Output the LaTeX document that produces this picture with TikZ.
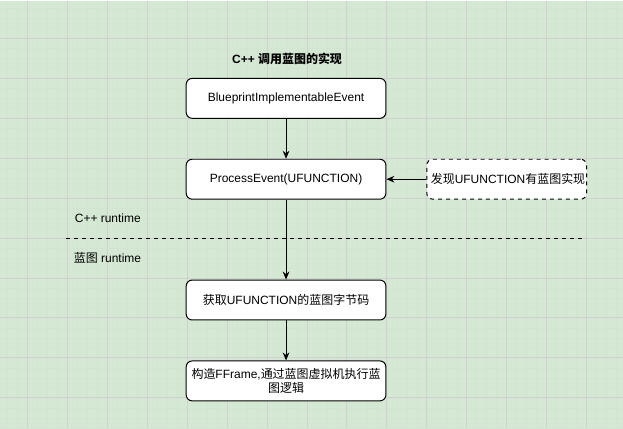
\documentclass[tikz,border=0pt]{standalone}
\usepackage{fontspec}
\setmainfont{Liberation Sans}
\newfontfamily\cjk{Noto Sans CJK SC}
\usetikzlibrary{positioning,arrows.meta}
\definecolor{canvasgreen}{RGB}{213,232,212}
\definecolor{minorgrid}{RGB}{211,229,210}
\definecolor{majorgrid}{RGB}{208,210,208}

\begin{document}
\begin{tikzpicture}[
    x=0.75pt,
    y=-0.75pt,
    node distance=30pt,
    >={Stealth[length=6pt,width=5pt]},
    line width=0.75pt,
    font=\fontsize{9pt}{11pt}\selectfont
]

\tikzstyle{stepbox}=[
    rectangle,
    draw,
    fill=white,
    rounded corners=4.5pt,
    minimum width=150pt,
    minimum height=30pt,
    text width=144pt,
    inner sep=2pt,
    align=center
]

\tikzstyle{notebox}=[
    stepbox,
    dashed,
    minimum width=120pt,
    text width=114pt
]

% background and grid
\fill[canvasgreen] (0,0) rectangle (623,428);
\draw[line width=0.4pt, minorgrid, step=7.5pt, shift={(7,8)}] (-7,-8) grid (616,420);
\draw[line width=0.75pt, majorgrid, step=30pt, shift={(27,38)}] (-27,-38) grid (596,390);
\useasboundingbox (0,0) rectangle (623,428);

\node[font=\fontsize{9pt}{11pt}\selectfont\bfseries] (title) at (287,58) {C++ {\cjk 调用蓝图的实现}};

\node[stepbox] (event) at (286,98) {BlueprintImplementableEvent};
\node[stepbox, below=of event] (process) {ProcessEvent(UFUNCTION)};
\node[notebox, right=30pt of process] (found) {{\cjk 发现}UFUNCTION{\cjk 有蓝图实现}};
\node[stepbox, below=60pt of process] (bytecode) {{\cjk 获取}UFUNCTION{\cjk 的蓝图字节码}};
\node[stepbox, below=of bytecode] (frame) {{\cjk 构造}FFrame,{\cjk 通过蓝图虚拟机执行蓝}\\{\cjk 图逻辑}};

\draw[->] (event) -- (process);
\draw[->] (found) -- (process);
\draw[->] (process) -- (bytecode);
\draw[->] (bytecode) -- (frame);

% runtime boundary
\coordinate (sepl) at (66,238);
\coordinate (sepr) at (586,238);
\draw[dashed] (sepl) -- (sepr);

\node[anchor=west, inner sep=0pt] (cpp) at (74,218) {C++ runtime};
\node[anchor=west, inner sep=0pt] (bp) at (73,258) {{\cjk 蓝图} runtime};

\end{tikzpicture}
\end{document}
